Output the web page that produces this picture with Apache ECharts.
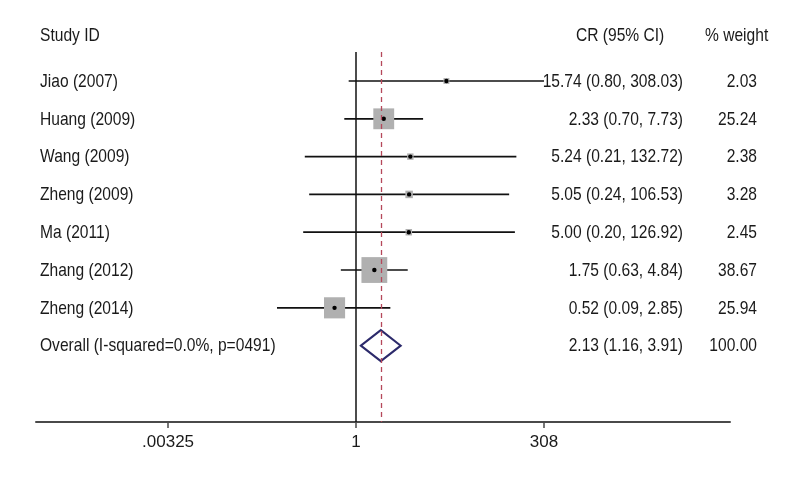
<!DOCTYPE html>
<html>
<head>
<meta charset="utf-8">
<script src="https://cdn.jsdelivr.net/npm/echarts@6/dist/echarts.min.js"></script>
<style>
  html, body { margin: 0; padding: 0; background: #fff; }
  #chart { width: 800px; height: 480px; }
</style>
</head>
<body>
<div id="chart"></div>
<script>
// ---- Data ----
const studies = ['Jiao (2007)', 'Huang (2009)', 'Wang (2009)', 'Zheng (2009)', 'Ma (2011)', 'Zhang (2012)', 'Zheng (2014)'];
const cr = [15.74, 2.33, 5.24, 5.05, 5.00, 1.75, 0.52];
const ciLow = [0.80, 0.70, 0.21, 0.24, 0.20, 0.63, 0.09];
const ciHigh = [308.03, 7.73, 132.72, 106.53, 126.92, 4.84, 2.85];
const weights = [2.03, 25.24, 2.38, 3.28, 2.45, 38.67, 25.94];

const overallLabel = ['Overall (I-squared=0.0%, p=0491)'];
const overallCR = [2.13];
const overallLow = [1.16];
const overallHigh = [3.91];
const overallWeight = [100.00];

const tickValues = [0.00325, 1, 308];
const tickLabels = ['.00325', '1', '308'];
const headers = ['Study ID', 'CR (95% CI)', '% weight'];

// ---- Layout ----
const FONT = "'Liberation Sans', Arial, sans-serif";
const FS = 19;
const SX = 0.82;           // horizontal condensing of text
const TXT = '#1a1a1a';
const LABEL_X = 40, CR_X = 683, W_X = 757;
const SQ_SCALE = 4.15;

const chart = echarts.init(document.getElementById('chart'), null, { renderer: 'canvas' });

const studyData = studies.map((s, i) => [i, ciLow[i], ciHigh[i], cr[i], weights[i]]);
const overallData = overallCR.map((v, j) => [studies.length + j, overallLow[j], overallHigh[j], v, overallWeight[j]]);

function fmt(v) { return v.toFixed(2); }

function txt(x, y, text, align) {
  return { type: 'text', x: x, y: y, scaleX: SX,
    style: { x: 0, y: 0, text: text, font: FS + 'px ' + FONT, fill: TXT, textAlign: align, textVerticalAlign: 'middle' } };
}

function textEls(y, label, c, lo, hi, w) {
  return [
    txt(LABEL_X, y + 0.5, label, 'left'),
    txt(CR_X, y + 0.5, fmt(c) + ' (' + fmt(lo) + ', ' + fmt(hi) + ')', 'right'),
    txt(W_X, y + 0.5, fmt(w), 'right')
  ];
}

const option = {
  backgroundColor: '#fff',
  animation: false,
  grid: { left: 36, right: 70, top: 52, bottom: 58 },
  xAxis: {
    type: 'log',
    logBase: 10,
    min: Math.pow(10, -4.236),
    max: Math.pow(10, 4.951),
    splitLine: { show: false },
    axisLine: { show: true, onZero: false, lineStyle: { color: '#4a4a4a', width: 2 } },
    axisTick: { show: true, length: 6, inside: false, customValues: tickValues, lineStyle: { color: '#4a4a4a', width: 1.5 } },
    axisLabel: {
      show: true, customValues: tickValues, margin: 12,
      fontFamily: FONT, fontSize: 17, color: TXT,
      formatter: function (v) {
        let best = 0, bd = Infinity;
        tickValues.forEach((t, k) => { const d = Math.abs(Math.log(t) - Math.log(v)); if (d < bd) { bd = d; best = k; } });
        return tickLabels[best];
      }
    }
  },
  yAxis: {
    type: 'value', inverse: true, min: -0.767, max: 9.02, show: false
  },
  graphic: [
    txt(LABEL_X, 36, headers[0], 'left'),
    txt(576, 36, headers[1], 'left'),
    txt(705, 36, headers[2], 'left')
  ],
  series: [
    {
      type: 'custom',
      clip: false,
      data: studyData,
      renderItem: function (params, api) {
        const i = api.value(0);
        const lo = api.coord([api.value(1), i]);
        const hi = api.coord([api.value(2), i]);
        const c = api.coord([api.value(3), i]);
        const side = SQ_SCALE * Math.sqrt(api.value(4));
        const idx = params.dataIndex;
        return {
          type: 'group',
          children: [
            { type: 'line', shape: { x1: lo[0], y1: lo[1], x2: hi[0], y2: hi[1] }, style: { stroke: '#111', lineWidth: 1.7 } },
            { type: 'rect', shape: { x: c[0] - side / 2, y: c[1] - side / 2, width: side, height: side }, style: { fill: '#b0b0b0' } },
            { type: 'circle', shape: { cx: c[0], cy: c[1], r: 2.2 }, style: { fill: '#000' } }
          ].concat(textEls(c[1], studies[idx], cr[idx], ciLow[idx], ciHigh[idx], weights[idx]))
        };
      },
      markLine: {
        silent: true, symbol: 'none', label: { show: false },
        data: [
          { xAxis: 1, lineStyle: { color: '#111', width: 1.5, type: 'solid' } },
          { yAxis: -0.767, lineStyle: { color: '#d4d4d4', width: 1.5, type: 'solid' } }
        ]
      }
    },
    {
      type: 'custom',
      clip: false,
      data: overallData,
      z: 3,
      renderItem: function (params, api) {
        const i = api.value(0);
        const lo = api.coord([api.value(1), i]);
        const hi = api.coord([api.value(2), i]);
        const c = api.coord([api.value(3), i]);
        const h = 15.5;
        const j = params.dataIndex;
        return {
          type: 'group',
          children: [
            { type: 'polygon', shape: { points: [[lo[0], c[1]], [c[0], c[1] - h], [hi[0], c[1]], [c[0], c[1] + h]] }, style: { fill: 'none', stroke: '#2c2a6b', lineWidth: 2 } }
          ].concat(textEls(c[1], overallLabel[j], overallCR[j], overallLow[j], overallHigh[j], overallWeight[j]))
        };
      },
      markLine: {
        silent: true, symbol: 'none', label: { show: false }, z: 4,
        data: [
          { xAxis: overallCR[0], lineStyle: { color: '#b5485a', width: 1.3, type: [5, 4] } }
        ]
      }
    }
  ]
};

chart.setOption(option);
</script>
</body>
</html>
